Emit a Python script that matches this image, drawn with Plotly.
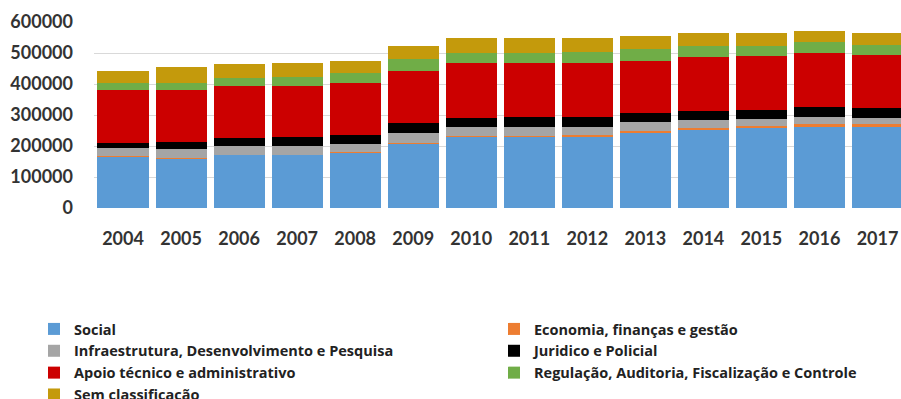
import plotly.graph_objects as go

years = ["2004", "2005", "2006", "2007", "2008", "2009", "2010",
         "2011", "2012", "2013", "2014", "2015", "2016", "2017"]

social = [165000, 160000, 171000, 171000, 178000, 209000, 230000,
          230000, 230000, 241000, 252000, 257000, 262000, 262000]
economia = [1500, 1500, 1500, 1500, 1500, 2000, 3000,
            3000, 4000, 7000, 7000, 7000, 9000, 8000]
infra = [26500, 28500, 27500, 27500, 28500, 32000, 27000,
         27000, 28000, 30000, 25000, 22000, 24000, 19000]
juridico = [16000, 24000, 25000, 30000, 29000, 30000, 29000,
            35000, 33000, 29000, 30000, 30000, 32000, 33000]
apoio = [172000, 167000, 169000, 164000, 165000, 170000, 178000,
         172000, 174000, 168000, 174000, 174000, 174000, 172000]
regulacao = [21000, 23000, 24000, 30000, 34000, 37000, 34000,
             34000, 35000, 37000, 35000, 31000, 33000, 32000]
sem_class = [41000, 50000, 47000, 43000, 39000, 43000, 46000,
             46000, 43000, 43000, 42000, 42000, 37000, 37000]

series_names = [
    "Social",
    "Economia, finanças e gestão",
    "Infraestrutura, Desenvolvimento e Pesquisa",
    "Juridico e Policial",
    "Apoio técnico e administrativo",
    "Regulação, Auditoria, Fiscalização e Controle",
    "Sem classificação",
]
series_values = [social, economia, infra, juridico, apoio, regulacao, sem_class]
series_colors = ["#5B9BD5", "#ED7D31", "#A5A5A5", "#000000",
                 "#CC0000", "#70AD47", "#C49A0C"]
# left legend column / right legend column
series_legend = ["legend", "legend2", "legend", "legend2",
                 "legend", "legend2", "legend"]

y_ticks = [0, 100000, 200000, 300000, 400000, 500000, 600000]

fig = go.Figure()
for name, vals, col, lg in zip(series_names, series_values, series_colors, series_legend):
    fig.add_trace(go.Bar(x=years, y=vals, name=name, legend=lg,
                         marker=dict(color=col, line=dict(width=0))))

W, H = 901, 399
legend_font = dict(family="Open Sans", size=14.5, color="#222222", weight="bold")
fig.update_layout(
    width=W, height=H,
    barmode="stack",
    bargap=0.12,
    plot_bgcolor="white",
    paper_bgcolor="white",
    margin=dict(l=94, r=0, t=22, b=191, pad=0, autoexpand=False),
    font=dict(family="Lato", size=18, color="#333333", weight="bold"),
    showlegend=True,
    legend=dict(
        orientation="v",
        traceorder="normal",
        xref="container", yref="container",
        x=34 / W, xanchor="left",
        y=1 - 313 / H, yanchor="top",
        font=legend_font,
        itemwidth=30,
        bgcolor="rgba(0,0,0,0)",
    ),
    legend2=dict(
        orientation="v",
        traceorder="normal",
        xref="container", yref="container",
        x=494 / W, xanchor="left",
        y=1 - 313 / H, yanchor="top",
        font=legend_font,
        itemwidth=30,
        bgcolor="rgba(0,0,0,0)",
    ),
    xaxis=dict(
        type="category",
        range=[-0.5, 13.405],
        showgrid=False,
        showline=False,
        ticks="",
        tickangle=0,
        ticklabelstandoff=18,
        tickfont=dict(size=18),
    ),
    yaxis=dict(
        range=[0, 600000],
        tickvals=y_ticks,
        ticktext=[str(v) for v in y_ticks],
        showgrid=True,
        gridcolor="#D9D9D9",
        gridwidth=1,
        zeroline=False,
        showline=False,
        ticks="",
        ticklabelstandoff=20,
        tickfont=dict(size=18),
    ),
)

fig.write_html("out.html")
